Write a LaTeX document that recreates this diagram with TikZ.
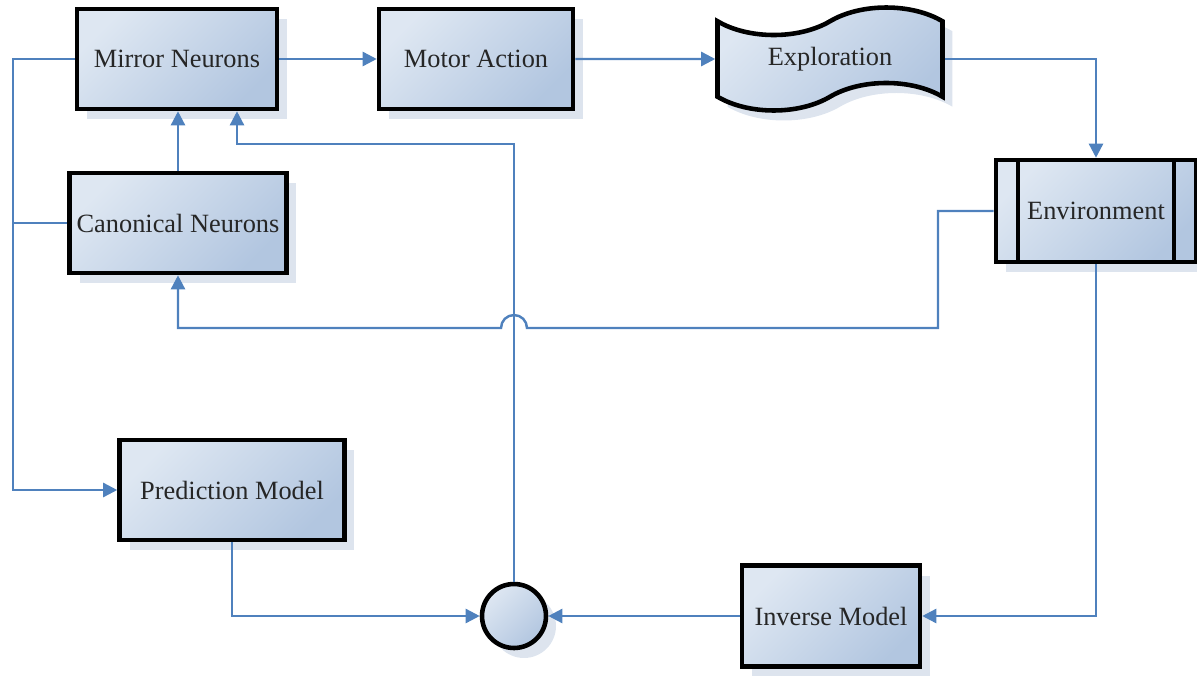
\documentclass[tikz,border=0pt]{standalone}
\usepackage{fontspec}
\setmainfont{Liberation Serif}
\usetikzlibrary{arrows.meta,shapes.symbols,shadows}
\definecolor{boxlo}{RGB}{222,231,242}
\definecolor{boxhi}{RGB}{178,198,224}
\definecolor{shade}{RGB}{221,228,238}
\definecolor{wire}{RGB}{79,129,189}
\begin{document}
\begin{tikzpicture}[x=0.02cm, y=-0.02cm,
    block/.style={draw, line width=2.6pt, rectangle, left color=boxlo, right color=boxhi, shading angle=45,
        drop shadow={shadow xshift=0.2cm, shadow yshift=-0.2cm, fill=shade, opacity=1},
        font=\fontsize{15}{18}\selectfont, text=black!85, inner sep=2pt, minimum height=2cm},
    wireline/.style={draw=wire, line width=1.4pt},
    arr/.style={wireline, -{Triangle[length=8pt, width=8pt]}}]
        \useasboundingbox (0, 0) rectangle (1197, 676);
        \node (mirror) at (177, 59) [block, minimum width=4cm] {Mirror Neurons};
        \node (motor) at (476, 59) [block, minimum width=3.88cm] {Motor Action};
        \node (expl) at (830, 59) [block, tape, minimum width=4.5cm, minimum height=2.06cm, tape bend height=0.55cm] {Exploration};
        \node (env) at (1096, 211) [block, minimum width=4cm, minimum height=2.04cm,
            path picture={\draw[line width=2.6pt] ([xshift=0.44cm]path picture bounding box.north west) -- ([xshift=0.44cm]path picture bounding box.south west);
                \draw[line width=2.6pt] ([xshift=-0.44cm]path picture bounding box.north east) -- ([xshift=-0.44cm]path picture bounding box.south east);}] {Environment};
        \node (canon) at (178, 223) [block, minimum width=4.34cm] {Canonical Neurons};
        \node (pred) at (232, 490) [block, minimum width=4.5cm] {Prediction Model};
        \node (inv) at (831, 616) [block, minimum width=3.56cm, minimum height=2.02cm] {Inverse Model};
        \node (sum) at (514, 616) [block, circle, minimum size=1.28cm, minimum height=1.28cm] {};
        \coordinate (rail) at (13, 0);
        \coordinate (envbend) at (938, 328);
        \coordinate (hop) at (514, 328);
        \coordinate (fb) at (237, 144);
        \draw[arr] (mirror) -- (motor);
        \draw[arr] (motor) -- (expl);
        \draw[arr] (expl.east) -| (env.north);
        \draw[arr] (canon.north) -- (canon.north |- mirror.south);
        \draw[arr] (env.west) -| (envbend) -- ([xshift=0.26cm]hop) arc[start angle=0, end angle=180, radius=0.26cm] -| (canon.south);
        \draw[arr] (mirror.west) -| (rail |- pred.west) -- (pred.west);
        \draw[wireline] (canon.west) -- (rail |- canon.west);
        \draw[arr] (pred.south) |- (sum.west);
        \draw[arr] (inv.west) -- (sum.east);
        \draw[arr] (env.south) |- (inv.east);
        \draw[arr] (sum.north) |- (fb) -- (fb |- mirror.south);
        % hop over the feedback wire at (hop)
    \end{tikzpicture}
\end{document}
